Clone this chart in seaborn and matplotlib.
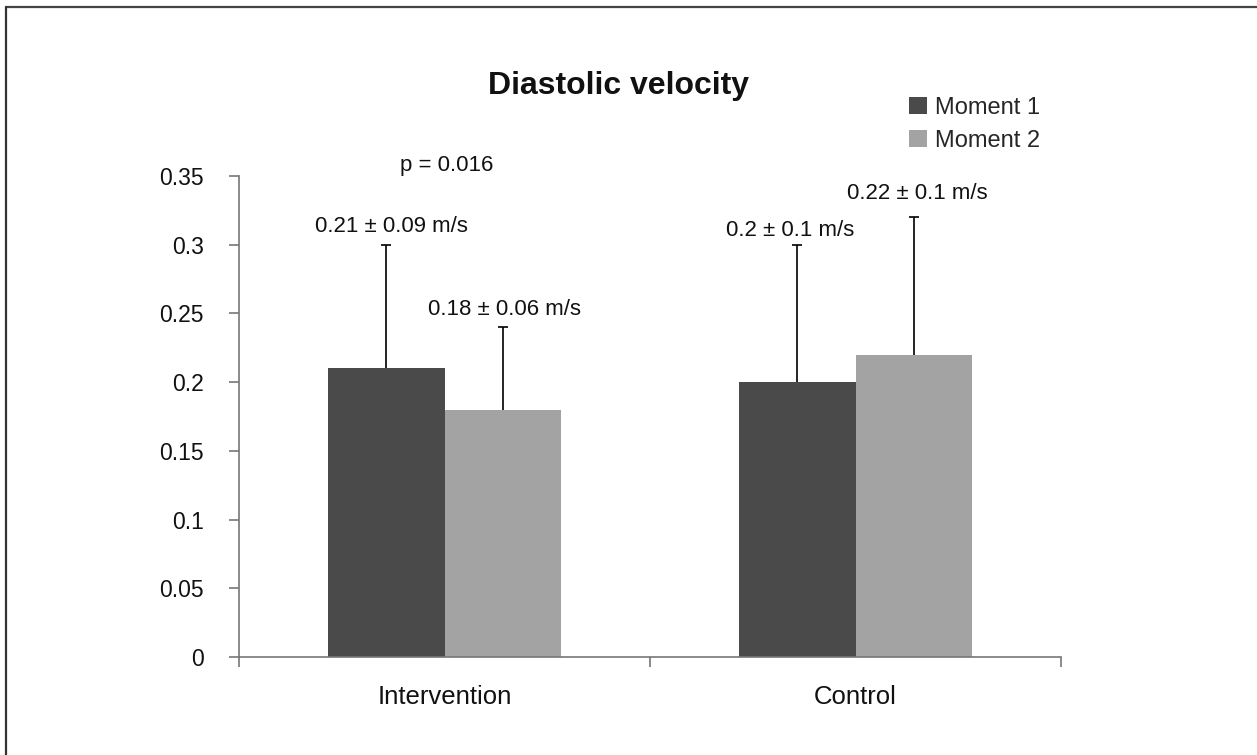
import matplotlib
matplotlib.use("Agg")
import matplotlib.pyplot as plt
import seaborn as sns
import pandas as pd
from matplotlib.lines import Line2D
from matplotlib.patches import Patch

groups = ["Intervention", "Control"]
moments = ["Moment 1", "Moment 2"]
means = {"Moment 1": [0.21, 0.20], "Moment 2": [0.18, 0.22]}
sds = {"Moment 1": [0.09, 0.10], "Moment 2": [0.06, 0.10]}
labels = {"Moment 1": ["0.21 \u00b1 0.09 m/s", "0.2 \u00b1 0.1 m/s"],
          "Moment 2": ["0.18 \u00b1 0.06 m/s", "0.22 \u00b1 0.1 m/s"]}
yticks = [0, 0.05, 0.1, 0.15, 0.2, 0.25, 0.3, 0.35]
ytick_labels = ["0", "0.05", "0.1", "0.15", "0.2", "0.25", "0.3", "0.35"]
colors = ["#4a4a4a", "#a3a3a3"]

rows = []
for m in moments:
    for g, v, s in zip(groups, means[m], sds[m]):
        rows.append({"group": g, "moment": m, "value": v, "sd": s})
df = pd.DataFrame(rows)

sns.set_theme(style="white")
plt.rcParams["font.family"] = ["Liberation Sans", "DejaVu Sans"]

fig = plt.figure(figsize=(12.57, 7.55), dpi=100)
ax = fig.add_axes([239/1257, 1-657/755, (1061-239)/1257, (657-176)/755])

sns.barplot(data=df, x="group", y="value", hue="moment", order=groups,
            hue_order=moments, palette=colors, width=0.567, errorbar=None,
            ax=ax, legend=False, saturation=1, linewidth=0)

# error bars (upper only)
for ci, m in enumerate(moments):
    cont = ax.containers[ci]
    for bar, v, s in zip(cont, means[m], sds[m]):
        xc = bar.get_x() + bar.get_width() / 2
        ax.errorbar([xc], [v], yerr=[[0], [s]], fmt="none", ecolor="black",
                    elinewidth=1.2, capsize=0)
        ax.errorbar([xc], [v + s], xerr=[[0.012], [0.012]], fmt="none",
                    ecolor="black", elinewidth=1.2, capsize=0)

# value annotations
ann_pos = {"Moment 1": [(-0.128, 0.3136), (0.84, 0.310)],
           "Moment 2": [(0.147, 0.2525), (1.15, 0.3376)]}
for m in moments:
    for (x, y), t in zip(ann_pos[m], labels[m]):
        ax.text(x, y, t, ha="center", va="center", fontsize=16, color="#111111",
                clip_on=False)
ax.text(0.006, 0.358, "p = 0.016", ha="center", va="center", fontsize=16,
        color="#111111", clip_on=False)

ax.set_xlim(-0.5, 1.5)
ax.set_ylim(0, 0.35)
ax.set_yticks(yticks)
ax.set_yticklabels(ytick_labels, fontsize=16.5, color="#111111")
ax.set_xticks([0, 1])
ax.set_xticklabels(groups, fontsize=18.5, color="#111111")
ax.set_xticks([-0.5, 0.5, 1.5], minor=True)
ax.tick_params(axis="x", which="major", length=0, pad=20)
ax.tick_params(axis="x", which="minor", length=7, width=1.2, color="#777777",
               direction="out", bottom=True)
ax.tick_params(axis="y", length=7.5, width=1.2, color="#777777", direction="out",
               left=True, pad=18)
ax.set_xlabel("")
ax.set_ylabel("")
for side in ["top", "right"]:
    ax.spines[side].set_visible(False)
for side in ["left", "bottom"]:
    ax.spines[side].set_color("#777777")
    ax.spines[side].set_linewidth(1.2)

fig.text(618/1257, 1-86/755, "Diastolic velocity", ha="center", va="center",
         fontsize=23, fontweight="bold", color="#111111")

handles = [Patch(facecolor=c, edgecolor="none") for c in colors]
fig.legend(handles, moments, loc="upper left",
           bbox_to_anchor=(909/1257, 1-97/755), frameon=False, fontsize=17,
           handlelength=0.75, handleheight=0.75, handletextpad=0.35,
           labelspacing=0.45, borderaxespad=0, borderpad=0)

# figure border (top and left)
fig.add_artist(Line2D([6/1257, 1], [1-7/755, 1-7/755], transform=fig.transFigure,
                      color="#444444", linewidth=1.6))
fig.add_artist(Line2D([6/1257, 6/1257], [0, 1-7/755], transform=fig.transFigure,
                      color="#333333", linewidth=1.6))

fig.savefig("out.png", dpi=100)
